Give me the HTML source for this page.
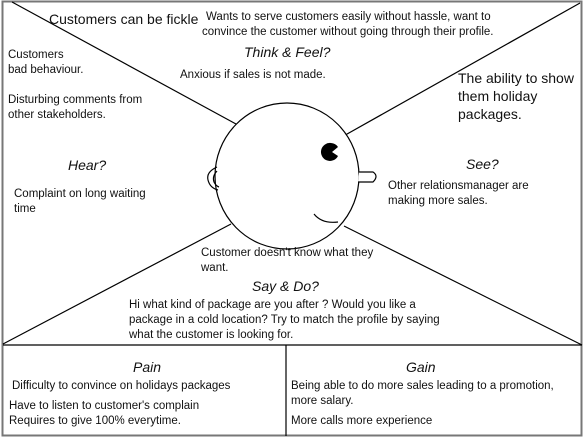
<!DOCTYPE html>
<html><head><style>
html,body{margin:0;padding:0;background:#fff;}
svg{display:block}
text{font-family:"Liberation Sans",sans-serif;font-size:11.5px;fill:#111}
.i{font-style:italic;font-size:14px}
.b{font-size:14px}
</style></head><body>
<svg width="584" height="438" viewBox="0 0 584 438" xmlns="http://www.w3.org/2000/svg">
<rect x="2.5" y="1.5" width="579" height="434" fill="#fff" stroke="#777" stroke-width="2"/>
<g stroke="#000" stroke-width="1.2" fill="none">
<line x1="12" y1="2" x2="236" y2="124"/>
<line x1="580" y1="3" x2="340" y2="138"/>
<line x1="3" y1="344" x2="231" y2="224"/>
<line x1="582" y1="345" x2="344" y2="226"/>
<line x1="3" y1="345" x2="582" y2="345"/>
<line x1="286" y1="345" x2="286" y2="436"/>
<ellipse cx="287" cy="176" rx="72" ry="73" fill="#fff"/>
<path d="M217 167 Q206 172 208 180 Q210 188 218 190"/>
<path d="M217 171 Q212 176 214 182 Q216 186 219 187"/>
<path d="M359 172 L373 172 Q379 176 373 182 L358 182" fill="#fff"/>
<path d="M314 214 Q322 224 338 222"/>
</g>
<path d="M331 143 a9 9 0 1 0 7 13 l-6-4 l6-5 a9 9 0 0 0 -7 -4z" fill="#000"/>
<text class="b" x="49" y="24">Customers can be fickle</text>
<text x="206" y="20">Wants to serve customers easily without hassle, want to</text>
<text x="202" y="35">convince the customer without going through their profile.</text>
<text class="i" x="244" y="57">Think &amp; Feel?</text>
<text x="180" y="78">Anxious if sales is not made.</text>
<text x="8" y="58">Customers</text>
<text x="8" y="73">bad behaviour.</text>
<text x="8" y="103">Disturbing comments from</text>
<text x="8" y="118">other stakeholders.</text>
<text class="b" x="458" y="83">The ability to show</text>
<text class="b" x="458" y="101">them holiday</text>
<text class="b" x="458" y="119">packages.</text>
<text class="i" x="68" y="170">Hear?</text>
<text x="14" y="197">Complaint on long waiting</text>
<text x="14" y="212">time</text>
<text class="i" x="466" y="169">See?</text>
<text x="388" y="189">Other relationsmanager are</text>
<text x="388" y="204">making more sales.</text>
<text x="201" y="256">Customer doesn't know what they</text>
<text x="201" y="271">want.</text>
<text class="i" x="252" y="291">Say &amp; Do?</text>
<text x="129" y="308">Hi what kind of package are you after ? Would you like a</text>
<text x="129" y="323">package in a cold location?  Try to match the profile by saying</text>
<text x="129" y="338">what the customer is looking for.</text>
<text class="i" x="133" y="372">Pain</text>
<text x="12" y="389">Difficulty to convince on holidays packages</text>
<text x="9" y="409">Have to listen to customer's complain</text>
<text x="9" y="424">Requires to give 100% everytime.</text>
<text class="i" x="406" y="372">Gain</text>
<text x="291" y="389">Being able to do more sales leading to a promotion,</text>
<text x="291" y="404">more salary.</text>
<text x="291" y="424">More calls more experience</text>
</svg>
</body></html>
